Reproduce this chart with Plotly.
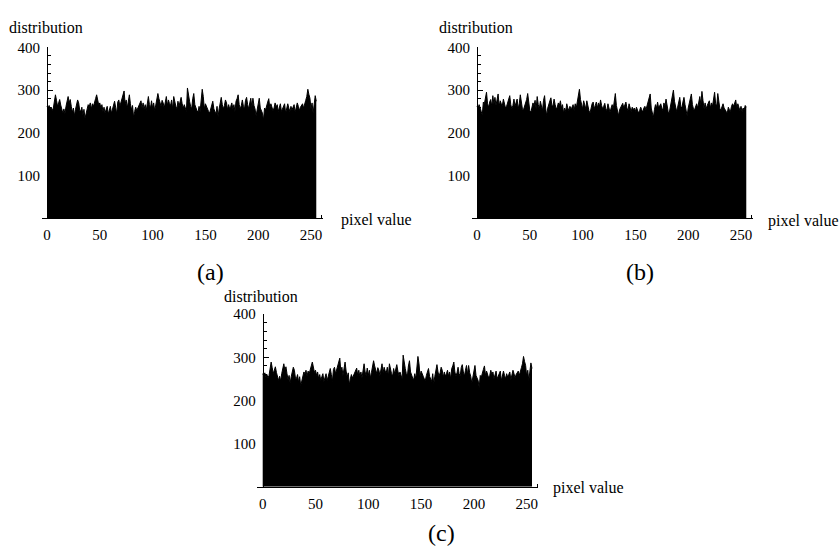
import plotly.graph_objects as go

pixel_values = list(range(256))

hist_a = [
    262, 258, 264, 255, 260, 252, 258, 270, 289, 276, 262, 270, 278, 265, 258, 246,
    256, 245, 262, 272, 285, 270, 278, 262, 248, 258, 240, 255, 266, 277, 270, 252,
    251, 260, 242, 255, 234, 248, 258, 266, 262, 270, 256, 268, 262, 276, 280, 289,
    272, 265, 270, 258, 266, 250, 260, 246, 255, 262, 244, 256, 262, 246, 258, 266,
    274, 260, 244, 272, 277, 262, 270, 282, 290, 298, 268, 277, 258, 280, 289, 268,
    254, 264, 236, 250, 260, 252, 258, 264, 270, 275, 258, 270, 256, 266, 252, 272,
    285, 266, 258, 275, 258, 270, 252, 265, 276, 292, 280, 268, 262, 276, 270, 258,
    270, 285, 264, 277, 268, 264, 277, 256, 285, 268, 262, 256, 274, 262, 276, 283,
    268, 258, 266, 256, 250, 305, 282, 274, 262, 256, 280, 292, 266, 256, 252, 248,
    262, 250, 270, 302, 285, 256, 268, 260, 256, 250, 246, 258, 268, 274, 256, 248,
    244, 262, 238, 256, 272, 283, 266, 256, 264, 277, 270, 254, 266, 256, 262, 270,
    256, 266, 250, 274, 280, 289, 266, 256, 264, 277, 262, 256, 276, 283, 266, 256,
    270, 281, 260, 281, 264, 256, 240, 256, 264, 281, 258, 252, 246, 230, 258, 254,
    266, 272, 280, 258, 268, 262, 252, 258, 270, 260, 266, 250, 258, 268, 250, 256,
    262, 268, 246, 256, 268, 258, 250, 262, 254, 260, 266, 248, 260, 270, 262, 252,
    260, 266, 268, 258, 270, 276, 285, 302, 290, 281, 256, 270, 246, 278, 287, 274,
]

hist_b = [
    262, 258, 266, 260, 250, 242, 272, 268, 280, 295, 268, 260, 272, 278, 262, 287,
    268, 283, 264, 276, 291, 262, 275, 268, 264, 279, 266, 258, 262, 272, 276, 287,
    266, 256, 264, 279, 262, 272, 279, 256, 268, 289, 266, 256, 254, 262, 272, 278,
    292, 266, 252, 248, 258, 270, 264, 276, 256, 285, 266, 256, 274, 264, 252, 276,
    287, 258, 240, 258, 270, 275, 282, 262, 264, 279, 266, 256, 260, 270, 264, 275,
    258, 266, 246, 258, 250, 268, 258, 252, 262, 256, 260, 266, 252, 268, 258, 276,
    288, 302, 278, 262, 256, 275, 264, 256, 275, 262, 252, 246, 258, 268, 272, 256,
    264, 272, 258, 270, 262, 277, 264, 256, 262, 269, 256, 252, 268, 258, 248, 258,
    266, 256, 272, 292, 264, 250, 240, 254, 260, 266, 269, 258, 264, 272, 258, 252,
    268, 258, 250, 260, 254, 258, 250, 260, 254, 246, 252, 260, 254, 248, 258, 262,
    254, 264, 272, 280, 291, 258, 244, 236, 254, 266, 258, 272, 258, 264, 268, 258,
    252, 270, 262, 279, 258, 250, 246, 258, 270, 285, 300, 274, 258, 250, 260, 270,
    283, 262, 258, 272, 283, 266, 252, 240, 258, 270, 280, 291, 266, 256, 254, 264,
    268, 258, 276, 285, 266, 297, 276, 256, 270, 256, 264, 270, 275, 258, 270, 262,
    282, 295, 268, 262, 292, 268, 256, 254, 264, 268, 258, 252, 250, 246, 260, 254,
    250, 262, 268, 262, 270, 277, 258, 268, 260, 252, 262, 250, 258, 254, 264, 260,
]

# panel (c) shows the same histogram as panel (a)
hist_c = list(hist_a)

x_ticks = [0, 50, 100, 150, 200, 250]
y_ticks = [100, 200, 300, 400]
panel_labels = ["(a)", "(b)", "(c)"]
x_title = "pixel value"
y_title = "distribution"

W, H = 840, 551
FONT = "Liberation Serif"

def px(x):
    return x / W

def py(y):
    return 1 - y / H

S = 1.056  # pixels per unit along x
XR = [-5, 261]

panels = [
    dict(data=hist_a, x0=47, yb=213.3, yt=40, dist=(46, 20), pv=(376, 215), lab=(210, 268)),
    dict(data=hist_b, x0=477, yb=213.3, yt=40, dist=(476, 20), pv=(803, 216), lab=(640, 268)),
    dict(data=hist_c, x0=262.7, yb=485.7, yt=310.7, dist=(261, 293), pv=(588, 487), lab=(441, 533)),
]

fig = go.Figure()
annotations = []
for i, p in enumerate(panels):
    n = "" if i == 0 else str(i + 1)
    fig.add_trace(go.Scatter(
        x=pixel_values, y=p["data"], mode="lines",
        line=dict(color="black", width=1),
        fill="tozeroy", fillcolor="black",
        xaxis="x" + n, yaxis="y" + n, hoverinfo="skip", showlegend=False,
    ))
    left = p["x0"] + XR[0] * S
    right = p["x0"] + XR[1] * S
    fig.layout["xaxis" + n] = dict(
        domain=[px(left), px(right)], range=XR, anchor="y" + n,
        showline=True, linecolor="black", linewidth=1,
        ticks="", tickvals=x_ticks, showgrid=False, zeroline=False,
        minor=dict(ticks="inside", ticklen=3, tickcolor="black", tickvals=[260], showgrid=False),
        tickfont=dict(family=FONT, size=15, color="black"),
        ticklabelstandoff=3, fixedrange=True,
    )
    fig.layout["yaxis" + n] = dict(
        domain=[py(p["yb"]), py(p["yt"])], range=[0, 400], anchor="free",
        position=px(p["x0"]),
        showline=True, linecolor="black", linewidth=1,
        ticks="inside", ticklen=5, tickcolor="black", tickwidth=1,
        tickvals=y_ticks, showgrid=False, zeroline=False,
        minor=dict(ticks="inside", ticklen=3, tickcolor="black", dtick=20, tick0=0, showgrid=False),
        tickfont=dict(family=FONT, size=15, color="black"),
        ticklabelstandoff=4, fixedrange=True,
    )
    annotations.append(dict(text=y_title, x=px(p["dist"][0]), y=py(p["dist"][1]),
                            xref="paper", yref="paper", showarrow=False,
                            xanchor="center", yanchor="middle",
                            font=dict(family=FONT, size=16, color="black")))
    annotations.append(dict(text=x_title, x=px(p["pv"][0]), y=py(p["pv"][1]),
                            xref="paper", yref="paper", showarrow=False,
                            xanchor="center", yanchor="middle",
                            font=dict(family=FONT, size=16, color="black")))
    annotations.append(dict(text=panel_labels[i], x=px(p["lab"][0]), y=py(p["lab"][1]),
                            xref="paper", yref="paper", showarrow=False,
                            xanchor="center", yanchor="middle",
                            font=dict(family=FONT, size=24, color="black")))

fig.update_layout(
    width=W, height=H, margin=dict(l=0, r=0, t=0, b=0),
    paper_bgcolor="white", plot_bgcolor="white",
    font=dict(family=FONT, color="black"),
    annotations=annotations, showlegend=False,
)

fig.write_html("out.html", config={"displayModeBar": False})
